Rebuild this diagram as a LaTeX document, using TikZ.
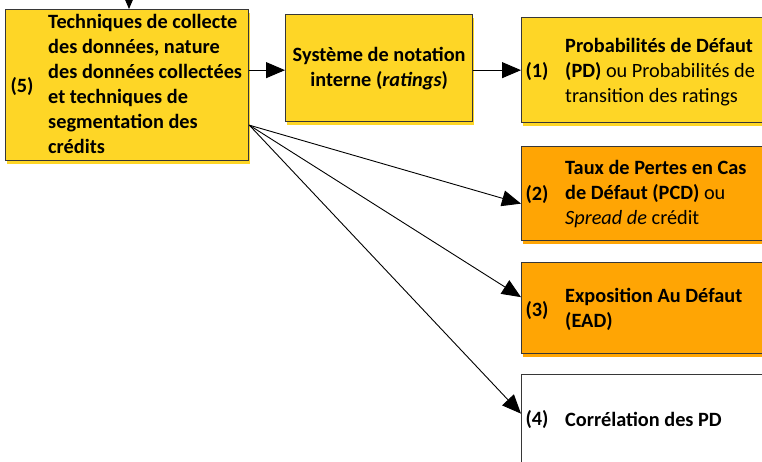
\documentclass[tikz,border=0pt]{standalone}
\usepackage{fontspec}
\setmainfont{Carlito}
\usetikzlibrary{arrows.meta,shadows}

\definecolor{boxyellow}{RGB}{254,214,38}
\definecolor{boxorange}{RGB}{255,165,4}
\definecolor{boxline}{RGB}{55,55,55}
\newcommand{\boxfont}{\fontsize{20.3}{25}\selectfont}

\tikzset{
  box/.style={draw=boxline, line width=1.3pt, anchor=north west, inner sep=0pt},
  yelbox/.style={box, fill=boxyellow, drop shadow={shadow xshift=1pt, shadow yshift=-3pt, fill=boxyellow, opacity=1}},
  orabox/.style={box, fill=boxorange, drop shadow={shadow xshift=1pt, shadow yshift=-3pt, fill=boxorange, opacity=1}},
  num/.style={font=\boxfont\bfseries, inner sep=0pt},
  txt/.style={font=\boxfont, anchor=west, align=left, inner sep=0pt},
  arr/.style={-{Triangle[length=19pt,width=16pt]}, line width=0.9pt},
}

\begin{document}
\begin{tikzpicture}[x=1pt, y=-1pt]
        \useasboundingbox (0,0) rectangle (762,461);
        \clip (0,0) rectangle (762,461);

        % Draw boxes
        \node[yelbox, minimum width=243pt, minimum height=151pt] (collecte) at (5,9) {};
        \node[yelbox, minimum width=187pt, minimum height=107pt] (notation) at (285,14) {};
        \node[yelbox, minimum width=280pt, minimum height=105pt] (pd) at (521,17) {};
        \node[orabox, minimum width=280pt, minimum height=94pt] (pcd) at (521,146) {};
        \node[orabox, minimum width=280pt, minimum height=91pt] (ead) at (521,262) {};
        \node[box, fill=white, minimum width=280pt, minimum height=100pt] (corr) at (521,374) {};

        % Draw texts
        \node[num] (n5) at (22,86) {(5)};
        \node[txt, font=\boxfont\bfseries] (t5) at (48,84) {Techniques de collecte\\des données, nature\\des données collectées\\et techniques de\\segmentation des\\crédits};
        \node[font=\boxfont\bfseries, align=center, inner sep=0pt] (t0) at (notation.center) {Système de notation\\interne (\textit{ratings})};
        \node[num] (n1) at (537,72) {(1)};
        \node[txt] (t1) at (565,72) {\textbf{Probabilités de Défaut}\\\textbf{(PD)} ou Probabilités de\\transition des ratings};
        \node[num] (n2) at (537,194) {(2)};
        \node[txt] (t2) at (565,194) {\textbf{Taux de Pertes en Cas}\\\textbf{de Défaut (PCD)} ou\\\textit{Spread de} crédit};
        \node[num] (n3) at (537,310) {(3)};
        \node[txt, font=\boxfont\bfseries] (t3) at (565,309) {Exposition Au Défaut\\(EAD)};
        \node[num] (n4) at (537,419) {(4)};
        \node[txt, font=\boxfont\bfseries] (t4) at (565,419) {Corrélation des PD};

        % Draw arrows
        \coordinate (above) at (129,-30);
        \coordinate (fan) at ([yshift=-40pt]collecte.east);
        \draw[arr] (above) -- (above |- collecte.north);
        \draw[arr] (collecte.east |- pd.west) -- (notation.west |- pd.west);
        \draw[arr] (notation.east |- pd.west) -- (pd.west);
        \draw[arr] (fan) -- ([yshift=-10pt]pcd.west);
        \draw[arr] (fan) -- ([yshift=11pt]ead.west);
        \draw[arr] (fan) -- ([yshift=11pt]corr.west);
      \end{tikzpicture}
\end{document}
